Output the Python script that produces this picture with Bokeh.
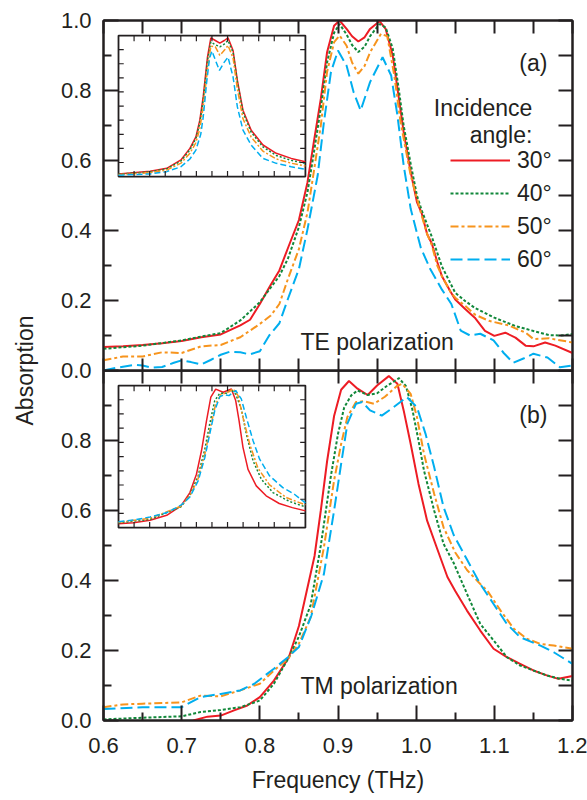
import numpy as np
from bokeh.plotting import figure
from bokeh.models import (Range1d, LinearAxis, FixedTicker, PrintfTickFormatter,
                          Label, Legend, LegendItem)
from bokeh.layouts import column, row
from bokeh.embed import file_html
from bokeh.resources import INLINE
from bokeh.core.properties import value

# ---------------- data ----------------
angle_labels = ["30°", "40°", "50°", "60°"]

# (a) TE polarization
te30_x = [0.600,0.625,0.650,0.675,0.700,0.725,0.750,0.775,0.7875,0.800,0.814,0.825,0.836,0.850,0.861,0.869,0.878,0.886,0.895,0.902,0.911,0.918,0.926,0.934,0.941,0.953,0.961,0.970,0.978,0.984,0.993,1.001,1.007,1.014,1.020,1.027,1.033,1.044,1.050,1.063,1.075,1.088,1.100,1.114,1.127,1.140,1.150,1.165,1.178,1.200]
te30_y = [0.067,0.069,0.073,0.078,0.084,0.095,0.103,0.129,0.145,0.190,0.245,0.286,0.35,0.43,0.538,0.652,0.776,0.909,0.985,1.0,0.976,0.955,0.94,0.952,0.976,0.998,0.976,0.90,0.776,0.681,0.567,0.481,0.45,0.39,0.363,0.31,0.269,0.225,0.203,0.175,0.151,0.113,0.099,0.108,0.094,0.071,0.069,0.080,0.071,0.050]
te40_x = [0.600,0.650,0.700,0.725,0.750,0.775,0.800,0.825,0.836,0.850,0.861,0.869,0.878,0.886,0.895,0.902,0.911,0.918,0.926,0.934,0.941,0.953,0.961,0.970,0.978,0.984,0.993,1.001,1.007,1.020,1.033,1.050,1.063,1.075,1.100,1.127,1.150,1.170,1.185,1.200]
te40_y = [0.062,0.071,0.086,0.097,0.107,0.143,0.195,0.27,0.32,0.41,0.51,0.62,0.75,0.88,0.965,0.99,0.96,0.93,0.91,0.925,0.955,0.99,0.98,0.92,0.80,0.70,0.59,0.50,0.458,0.382,0.297,0.222,0.198,0.179,0.151,0.127,0.113,0.101,0.100,0.104]
te50_x = [0.600,0.625,0.650,0.675,0.700,0.725,0.750,0.775,0.800,0.814,0.825,0.836,0.850,0.861,0.869,0.878,0.886,0.895,0.902,0.911,0.918,0.926,0.934,0.941,0.955,0.963,0.972,0.980,0.993,1.007,1.014,1.020,1.027,1.033,1.044,1.050,1.063,1.075,1.093,1.118,1.140,1.150,1.170,1.200]
te50_y = [0.029,0.040,0.040,0.052,0.050,0.069,0.073,0.095,0.133,0.157,0.19,0.262,0.347,0.452,0.567,0.70,0.853,0.938,0.957,0.928,0.88,0.848,0.87,0.909,0.962,0.955,0.843,0.71,0.557,0.443,0.39,0.358,0.30,0.269,0.224,0.208,0.184,0.16,0.142,0.129,0.108,0.09,0.092,0.08]
te60_x = [0.600,0.612,0.625,0.640,0.650,0.662,0.675,0.690,0.700,0.712,0.725,0.737,0.750,0.762,0.775,0.787,0.800,0.812,0.825,0.836,0.850,0.861,0.874,0.882,0.891,0.900,0.911,0.920,0.929,0.941,0.957,0.968,0.976,0.984,0.993,1.006,1.018,1.033,1.045,1.057,1.069,1.082,1.099,1.112,1.124,1.138,1.150,1.168,1.184,1.200]
te60_y = [0.000,0.006,0.011,0.016,0.014,0.008,0.010,0.022,0.029,0.024,0.017,0.030,0.045,0.054,0.052,0.046,0.055,0.10,0.135,0.205,0.29,0.404,0.557,0.71,0.853,0.914,0.871,0.795,0.743,0.824,0.895,0.843,0.729,0.586,0.462,0.35,0.29,0.231,0.19,0.114,0.10,0.105,0.086,0.05,0.022,0.035,0.048,0.037,0.009,0.014]

# (b) TM polarization
tm30_x = [0.715,0.733,0.750,0.767,0.784,0.800,0.818,0.837,0.850,0.860,0.870,0.878,0.886,0.895,0.904,0.914,0.925,0.938,0.950,0.965,0.976,0.984,0.993,1.003,1.014,1.027,1.040,1.050,1.065,1.082,1.099,1.116,1.133,1.150,1.167,1.182,1.200]
tm30_y = [0.0,0.011,0.014,0.029,0.043,0.067,0.114,0.18,0.27,0.37,0.47,0.60,0.74,0.87,0.945,0.97,0.948,0.93,0.957,0.984,0.962,0.886,0.79,0.676,0.571,0.49,0.41,0.37,0.314,0.257,0.205,0.181,0.162,0.143,0.129,0.119,0.127]
tm40_x = [0.600,0.650,0.700,0.724,0.750,0.775,0.800,0.818,0.837,0.850,0.865,0.878,0.891,0.900,0.908,0.917,0.925,0.938,0.950,0.962,0.978,0.987,0.995,1.003,1.010,1.023,1.035,1.048,1.065,1.082,1.099,1.116,1.133,1.150,1.167,1.184,1.200]
tm40_y = [0.003,0.008,0.012,0.024,0.030,0.038,0.057,0.105,0.18,0.24,0.33,0.50,0.70,0.819,0.895,0.929,0.943,0.93,0.935,0.955,0.978,0.955,0.89,0.80,0.714,0.60,0.505,0.45,0.362,0.276,0.229,0.181,0.157,0.143,0.129,0.119,0.114]
tm50_x = [0.600,0.625,0.650,0.700,0.724,0.750,0.775,0.800,0.818,0.836,0.850,0.865,0.882,0.895,0.904,0.912,0.923,0.933,0.946,0.960,0.975,0.982,0.993,1.001,1.010,1.023,1.035,1.050,1.065,1.082,1.091,1.108,1.125,1.142,1.159,1.176,1.200]
tm50_y = [0.038,0.046,0.048,0.052,0.071,0.069,0.086,0.105,0.143,0.176,0.22,0.295,0.495,0.686,0.79,0.867,0.91,0.912,0.905,0.925,0.955,0.962,0.933,0.867,0.762,0.648,0.552,0.48,0.43,0.39,0.371,0.314,0.262,0.233,0.219,0.214,0.205]
tm60_x = [0.600,0.650,0.700,0.724,0.750,0.775,0.793,0.818,0.836,0.850,0.866,0.882,0.895,0.904,0.912,0.923,0.931,0.941,0.956,0.971,0.988,1.001,1.012,1.023,1.035,1.048,1.065,1.082,1.099,1.116,1.133,1.159,1.176,1.200]
tm60_y = [0.033,0.038,0.038,0.067,0.076,0.086,0.105,0.148,0.181,0.21,0.30,0.419,0.60,0.733,0.848,0.905,0.91,0.886,0.871,0.895,0.924,0.895,0.819,0.724,0.61,0.53,0.46,0.39,0.333,0.276,0.238,0.214,0.195,0.162]

# insets (normalised frequency axis 0..1, normalised absorption 0..1)
ia_x = [0,0.169,0.258,0.334,0.382,0.414,0.435,0.453,0.476,0.494,0.518,0.542,0.566,0.586,0.613,0.636,0.666,0.71,0.773,0.844,0.924,1.0]
ia30_y = [0.019,0.038,0.059,0.118,0.2,0.282,0.40,0.565,0.847,0.984,0.965,0.946,0.965,0.984,0.894,0.682,0.471,0.329,0.224,0.165,0.129,0.106]
ia40_y = [0.017,0.034,0.055,0.11,0.19,0.27,0.38,0.54,0.82,0.955,0.935,0.92,0.94,0.965,0.88,0.67,0.455,0.315,0.21,0.15,0.115,0.094]
ia50_y = [0.014,0.028,0.046,0.095,0.165,0.24,0.34,0.49,0.76,0.925,0.92,0.86,0.895,0.93,0.84,0.62,0.41,0.28,0.18,0.125,0.095,0.075]
ia60_x = [0,0.169,0.258,0.334,0.382,0.414,0.44,0.453,0.471,0.487,0.5,0.52,0.54,0.565,0.586,0.613,0.636,0.666,0.71,0.773,0.844,0.924,1.0]
ia60_y = [0.01,0.019,0.035,0.07,0.125,0.188,0.3,0.42,0.66,0.84,0.89,0.82,0.753,0.81,0.847,0.706,0.494,0.329,0.224,0.129,0.094,0.07,0.052]

ib30_x = [0,0.08,0.169,0.258,0.334,0.382,0.417,0.444,0.471,0.494,0.52,0.56,0.604,0.627,0.645,0.666,0.693,0.737,0.79,0.86,0.93,1.0]
ib30_y = [0.028,0.035,0.052,0.087,0.153,0.247,0.376,0.541,0.753,0.918,0.975,0.953,0.976,0.894,0.753,0.565,0.41,0.294,0.224,0.17,0.141,0.118]
ib40_x = [0,0.169,0.334,0.382,0.426,0.462,0.488,0.515,0.542,0.577,0.604,0.627,0.657,0.684,0.72,0.764,0.826,0.915,1.0]
ib40_y = [0.033,0.059,0.146,0.228,0.365,0.553,0.73,0.894,0.946,0.946,0.969,0.941,0.835,0.659,0.47,0.341,0.247,0.184,0.146]
ib50_x = [0,0.169,0.334,0.382,0.426,0.462,0.488,0.52,0.55,0.577,0.613,0.64,0.666,0.702,0.746,0.808,0.897,1.0]
ib50_y = [0.038,0.066,0.151,0.224,0.346,0.518,0.682,0.871,0.941,0.946,0.976,0.929,0.776,0.588,0.419,0.301,0.212,0.16]
ib60_x = [0,0.08,0.169,0.258,0.334,0.382,0.426,0.462,0.488,0.515,0.542,0.568,0.591,0.627,0.657,0.684,0.72,0.755,0.808,0.879,0.941,1.0]
ib60_y = [0.042,0.054,0.075,0.106,0.158,0.216,0.329,0.494,0.659,0.824,0.922,0.936,0.929,0.965,0.906,0.776,0.612,0.482,0.365,0.282,0.235,0.175]

# ---------------- styling ----------------
FONT = "Liberation Sans"
INK = "#231f20"
COLORS = ["#ED1C24", "#11883A", "#F7941D", "#00AEEF"]
DASH_MAIN = ["solid", "3 2", "8 3 3 3", "12 5"]
DASH_INSET = ["solid", "2 2", "6 2 2 2", "6 3"]

LBL_W = 48
BL, BR = 55, 15
FRAME_W, FRAME_H = 469, 350
TOTAL_W = BL + FRAME_W + BR
OVERLAP = 12

x_major = [0.6, 0.7, 0.8, 0.9, 1.0, 1.1, 1.2]
x_minor = [0.65, 0.75, 0.85, 0.95, 1.05, 1.15]
x_all = sorted(x_major + x_minor)
y_tenths = [round(v, 1) for v in np.arange(0, 1.01, 0.1)]


def make_axis(ticks, minor=(), tin=14, min_in=8, labels=False, standoff=12):
    ax = LinearAxis(ticker=FixedTicker(ticks=list(ticks), minor_ticks=list(minor)),
                    major_tick_in=tin, major_tick_out=0,
                    minor_tick_in=min_in, minor_tick_out=0,
                    axis_line_color=INK, axis_line_width=2,
                    major_tick_line_color=INK, major_tick_line_width=2,
                    minor_tick_line_color=INK, minor_tick_line_width=2)
    if labels:
        ax.formatter = PrintfTickFormatter(format="%.1f")
        ax.major_label_text_font = FONT
        ax.major_label_text_font_size = "22px"
        ax.major_label_text_color = INK
        ax.major_label_standoff = standoff
    else:
        ax.major_label_text_font_size = "0px"
        ax.major_label_text_color = None
        ax.major_label_standoff = 0
    return ax


def make_panel(height, top, bottom, **kw):
    p = figure(width=TOTAL_W, height=height,
               x_range=Range1d(0.6, 1.2), y_range=Range1d(0, 1.0),
               x_axis_location=None, y_axis_location=None,
               toolbar_location=None, output_backend="svg",
               min_border_left=BL, min_border_right=BR,
               min_border_top=top, min_border_bottom=bottom, **kw)
    p.outline_line_color = INK
    p.outline_line_width = 2
    p.grid.visible = False
    return p


def add_inset(p, series, y0, y1):
    sub = p.subplot(x_source=Range1d(0, 1), y_source=Range1d(0, 1),
                    x_target=Range1d(0.6192, 0.8583), y_target=Range1d(y0, y1))
    sub.quad(left=0, right=1, bottom=0, top=1, fill_color="white",
             line_color=INK, line_width=1.8)
    for (xs, ys), c, d in zip(series, COLORS, DASH_INSET):
        sub.line(xs, ys, line_color=c, line_dash=d, line_width=1.5)
    xt = [k / 12 for k in range(1, 12)]
    yt = [k / 10 for k in range(1, 10)]
    tx = 0.028
    ty = 0.04
    sub.segment(x0=xt, y0=[0] * len(xt), x1=xt, y1=[ty] * len(xt), line_color=INK, line_width=1.2)
    sub.segment(x0=xt, y0=[1] * len(xt), x1=xt, y1=[1 - ty] * len(xt), line_color=INK, line_width=1.2)
    sub.segment(x0=[0] * len(yt), y0=yt, x1=[tx] * len(yt), y1=yt, line_color=INK, line_width=1.2)
    sub.segment(x0=[1] * len(yt), y0=yt, x1=[1 - tx] * len(yt), y1=yt, line_color=INK, line_width=1.2)


def text(p, x, y, s, align="left", baseline="alphabetic"):
    p.add_layout(Label(x=x, y=y, text=s, text_align=align, text_baseline=baseline,
                       text_font=FONT, text_font_size="23px", text_color=INK))


# ---------------- top panel (a) ----------------
top = make_panel(20 + FRAME_H + OVERLAP, 20, OVERLAP)
top.add_layout(make_axis([0, 0.2, 0.4, 0.6, 0.8, 1.0], [0.1, 0.3, 0.5, 0.7, 0.9],
                         tin=15, min_in=8, labels=True), "left")
top.add_layout(make_axis(y_tenths, tin=14), "right")
top.add_layout(make_axis(x_all, tin=13), "above")
top.add_layout(make_axis(x_all, tin=12), "below")

te_series = [(te30_x, te30_y), (te40_x, te40_y), (te50_x, te50_y), (te60_x, te60_y)]
te_renderers = []
for (xs, ys), c, d in zip(te_series, COLORS, DASH_MAIN):
    te_renderers.append(top.line(xs, ys, line_color=c, line_dash=d, line_width=2))

add_inset(top, [(ia_x, ia30_y), (ia_x, ia40_y), (ia_x, ia50_y), (ia60_x, ia60_y)], 0.554, 0.957)

legend = Legend(items=[LegendItem(label=value(a), renderers=[r]) for a, r in zip(angle_labels, te_renderers)],
                location=(347, 97), glyph_width=60, glyph_height=28, label_height=28,
                spacing=5, padding=0, margin=0, border_line_color=None,
                background_fill_alpha=0, label_text_font=FONT, label_text_font_size="23px",
                label_text_color=INK, label_standoff=7)
top.add_layout(legend)

text(top, 1.1678, 0.88, "(a)", align="right", baseline="middle")
text(top, 1.1486, 0.751, "Incidence", align="right")
text(top, 1.1486, 0.673, "angle:", align="right")
text(top, 0.852, 0.082, "TE polarization")

# ---------------- bottom panel (b) ----------------
BOTTOM_B = 80
bot = make_panel(FRAME_H + BOTTOM_B, 0, BOTTOM_B, margin=(-OVERLAP, 0, 0, 0))
bot.background_fill_alpha = 0
bot.border_fill_alpha = 0
bot.add_layout(make_axis([0, 0.2, 0.4, 0.6, 0.8], [0.1, 0.3, 0.5, 0.7, 0.9],
                         tin=15, min_in=8, labels=True), "left")
bot.add_layout(make_axis(y_tenths, tin=14), "right")
bot.add_layout(make_axis(x_all, tin=13), "above")
xb = make_axis(x_major, x_minor, tin=15, min_in=8, labels=True, standoff=17)
xb.axis_label = "Frequency (THz)"
xb.axis_label_text_font = FONT
xb.axis_label_text_font_size = "23px"
xb.axis_label_text_font_style = "normal"
xb.axis_label_text_color = INK
xb.axis_label_standoff = 11
bot.add_layout(xb, "below")

tm_series = [(tm30_x, tm30_y), (tm40_x, tm40_y), (tm50_x, tm50_y), (tm60_x, tm60_y)]
for (xs, ys), c, d in zip(tm_series, COLORS, DASH_MAIN):
    bot.line(xs, ys, line_color=c, line_dash=d, line_width=2)

add_inset(bot, [(ib30_x, ib30_y), (ib40_x, ib40_y), (ib50_x, ib50_y), (ib60_x, ib60_y)], 0.551, 0.957)

text(bot, 1.1678, 0.874, "(b)", align="right", baseline="middle")
text(bot, 0.852, 0.10, "TM polarization")

# ---------------- shared y-axis title ----------------
TOTAL_H = top.height + bot.height - OVERLAP
lab = figure(width=LBL_W, height=TOTAL_H, x_range=Range1d(0, LBL_W), y_range=Range1d(0, TOTAL_H),
             x_axis_location=None, y_axis_location=None, toolbar_location=None,
             output_backend="svg", min_border=0, outline_line_color=None)
lab.grid.visible = False
lab.add_layout(Label(x=24, y=TOTAL_H - 370, text="Absorption", angle=np.pi / 2,
                     text_align="center", text_baseline="middle",
                     text_font=FONT, text_font_size="23px", text_color=INK))

layout = row(lab, column(top, bot))
open("out.html", "w", encoding="utf-8").write(file_html(layout, INLINE, "Absorption"))
